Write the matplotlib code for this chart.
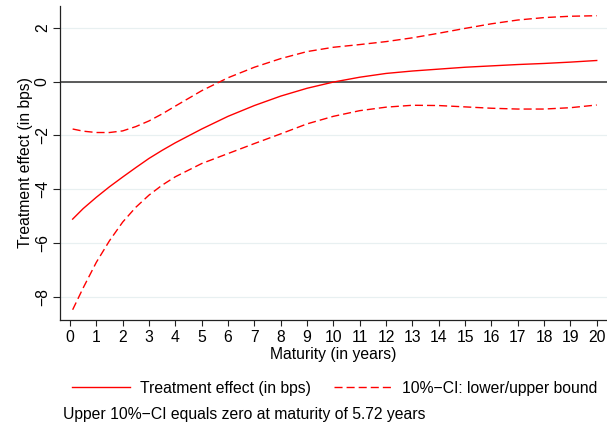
import matplotlib
matplotlib.use("Agg")
import matplotlib.pyplot as plt

plt.rcParams['font.family'] = ['Liberation Sans', 'DejaVu Sans']

maturity = [0.1, 0.5, 1, 1.5, 2, 2.5, 3, 3.5, 4, 5, 6, 7, 8, 9, 10, 11, 12, 13, 14, 15, 16, 17, 18, 19, 20]
effect = [-5.10, -4.71, -4.29, -3.90, -3.54, -3.19, -2.85, -2.55, -2.27, -1.76, -1.29, -0.89, -0.54, -0.25,
          -0.02, 0.16, 0.30, 0.39, 0.46, 0.53, 0.58, 0.63, 0.67, 0.72, 0.78]
ci_upper = [-1.76, -1.84, -1.89, -1.89, -1.83, -1.67, -1.46, -1.20, -0.91, -0.34, 0.14, 0.53, 0.85, 1.11,
            1.27, 1.37, 1.48, 1.62, 1.79, 1.97, 2.14, 2.28, 2.37, 2.42, 2.44]
ci_lower = [-8.46, -7.65, -6.70, -5.90, -5.21, -4.66, -4.21, -3.84, -3.53, -3.04, -2.67, -2.30, -1.94, -1.57,
            -1.29, -1.08, -0.95, -0.88, -0.89, -0.94, -0.99, -1.02, -1.02, -0.97, -0.87]
x_ticks = list(range(0, 21))
y_ticks = [-8, -6, -4, -2, 0, 2]

FS = 11.3
W, H = 607, 425
fig = plt.figure(figsize=(W / 100, H / 100), dpi=100)
ax = fig.add_axes([60 / W, 1 - 320 / H, 1 - 60 / W, (320 - 6) / H])

red = '#ff0000'
for yt in y_ticks:
    ax.axhline(yt, color='#e8f0f1', lw=0.9, zorder=0)
ax.axhline(0, color='#404040', lw=1.2, zorder=1)
l1, = ax.plot(maturity, effect, color=red, lw=1.0, label='Treatment effect (in bps)', zorder=3)
l2, = ax.plot(maturity, ci_upper, color=red, lw=1.0, dashes=(5.8, 2.9),
              label='10%\u2212CI: lower/upper bound', zorder=3)
ax.plot(maturity, ci_lower, color=red, lw=1.0, dashes=(5.8, 2.9), zorder=3)

ax.set_xlim(-0.38, 20.39)
ax.set_ylim(-8.84, 2.80)
ax.set_xticks(x_ticks)
ax.set_yticks(y_ticks)
ax.set_xticklabels([str(t) for t in x_ticks], fontsize=FS)
ax.set_yticklabels([f"{t}".replace('-', '\u2212') for t in y_ticks], fontsize=FS,
                   rotation=90, va='center')
ax.tick_params(axis='x', length=4.5, width=0.8, pad=3.0, color='#222222')
ax.tick_params(axis='y', length=5.0, width=0.8, pad=2.3, color='#222222')
for s in ['top', 'right']:
    ax.spines[s].set_visible(False)
for s in ['left', 'bottom']:
    ax.spines[s].set_color('#222222')
    ax.spines[s].set_linewidth(0.9)

ax.set_xlabel('Maturity (in years)', fontsize=FS)
ax.xaxis.set_label_coords(0.5, -(346.5 - 320) / 314)
ax.set_ylabel('Treatment effect (in bps)', fontsize=FS)
ax.yaxis.set_label_coords(-(60 - 33) / 547, 0.5)

fig.legend(handles=[l1, l2], loc='center left', bbox_to_anchor=(71.7 / W, 1 - 388 / H),
           ncol=2, frameon=False, fontsize=FS, handlelength=3.7, handletextpad=0.64,
           columnspacing=1.5, borderpad=0, borderaxespad=0)

fig.text(63.3 / W, 1 - 415 / H, 'Upper 10%\u2212CI equals zero at maturity of 5.72 years',
         fontsize=FS, va='center', ha='left')

fig.savefig('out.png', dpi=100)
